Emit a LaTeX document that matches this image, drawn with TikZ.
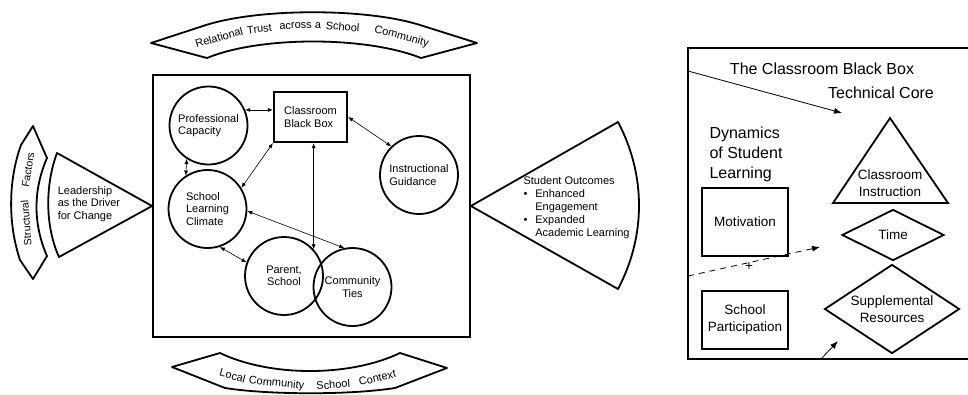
\documentclass[tikz,border=0pt]{standalone}
\usepackage{fontspec}
\setmainfont{Liberation Sans}
\usetikzlibrary{arrows.meta,shapes.geometric}

\begin{document}
\begin{tikzpicture}[x=1pt,y=-1pt,
  every node/.style={font=\fontsize{11}{12.5}\selectfont},
  bubble/.style={circle,draw,line width=1.8pt,minimum size=78pt,inner sep=0pt,align=left},
  band/.style={draw,line width=1.8pt,line join=round},
  word/.style={sloped,inner sep=1pt},
  link/.style={{Latex[length=5pt,width=4pt]}-{Latex[length=5pt,width=4pt]},line width=0.6pt},
  bigarrow/.style={-{Latex[length=8pt,width=6pt]},line width=0.8pt},
  big/.style={font=\fontsize{16}{20}\selectfont},
  mid/.style={font=\fontsize{13.5}{17}\selectfont},
  thickbox/.style={draw,line width=1.8pt}]
\useasboundingbox (0,0) rectangle (968,394);

\node [thickbox,minimum width=317pt,minimum height=262pt] (school) at (311.5,206) {};
\node [bubble] (pc) at (208.5,125.5) {Professional\\Capacity};
\node [bubble] (slc) at (207.5,209) {School\\Learning\\Climate};
\node [bubble] (ig) at (419,175) {Instructional\\Guidance};
\node [bubble,align=center] (ps) at (284,276) {Parent,\\School};
\node [bubble,align=center] (ct) at (352.5,287) {Community\\Ties};
\node [draw,line width=2.2pt,minimum width=73pt,minimum height=50pt,align=left] (bb) at (310.5,117) {Classroom\\Black Box};

\draw [link] (pc.23) -- (pc.23 -| bb.west);
\draw [link] (pc.237) -- (slc.123);
\draw [link] (slc.32) -- (bb.south west);
\draw [link] (bb.east) -- (ig.134);
\draw [link] (slc.-3) -- (ct.102);
\draw [link] (slc.-72) -- (ps.160);
\draw [link] (ps.42 |- bb.south) -- (ps.42);

\draw [band] (school.west) -- (57,153) .. controls (45,185) and (45,226) .. (59,257) -- cycle;
\node [align=left] (lead) at (89,204) {Leadership\\as the Driver\\for Change};

\draw [band] (school.east) -- (618,122) .. controls (646,175) and (646,236) .. (618,289) -- cycle;
\node [anchor=west] (out) at (520,208) {\fontsize{11}{13}\selectfont
  \begin{tabular}{@{}l@{\hspace{8pt}}l@{}}
  \multicolumn{2}{@{}l}{Student Outcomes}\\
  \textbullet & Enhanced\\
   & Engagement\\
  \textbullet & Expanded\\
   & Academic Learning
  \end{tabular}};

\draw [band] (151,43) -- (206,25) .. controls (260,8) and (366,8) .. (420,25) -- (477,43)
  -- (421,58) .. controls (366,36) and (260,36) .. (207,58) -- cycle;
\path (197,45) .. controls (260,19) and (360,19) .. (427,45)
  node [word,pos=0.11] (rt1) {Relational}
  node [word,pos=0.29] (rt2) {Trust}
  node [word,pos=0.44] (rt3) {across}
  node [word,pos=0.53] (rt4) {a}
  node [word,pos=0.63] (rt5) {School}
  node [word,pos=0.88] (rt6) {Community};

\draw [band] (172,367) -- (220,353) .. controls (270,377) and (350,377) .. (400,353) -- (447,368)
  -- (395,388) .. controls (350,395) and (270,395) .. (225,388) -- cycle;
\path (218,371) .. controls (270,390) and (350,390) .. (400,371)
  node [word,pos=0.09] (lc1) {Local}
  node [word,pos=0.33] (lc2) {Community}
  node [word,pos=0.62] (lc3) {School}
  node [word,pos=0.86] (lc4) {Context};

\draw [band] (33,126) -- (47,158) .. controls (33,190) and (33,224) .. (47,256) -- (33,279)
  -- (20,260) .. controls (8,224) and (8,181) .. (21,145) -- cycle;
\path (33,262) .. controls (23,228) and (23,182) .. (33,148)
  node [word,allow upside down,pos=0.35,font=\fontsize{10.5}{12}\selectfont] (sf1) {Structural}
  node [word,allow upside down,pos=0.8,font=\fontsize{10.5}{12}\selectfont] (sf2) {Factors};

\draw [line width=1.8pt] (968,48) -| (688,359) -- (968,359);
\node [big] (title) at (822,69) {The Classroom Black Box};
\node [big] (core) at (881,93) {Technical Core};
\node [big,align=left,anchor=west] (dyn) at (706,154) {Dynamics\\of Student\\Learning};
\node [thickbox,mid,minimum width=86pt,minimum height=68pt] (mot) at (745,222) {Motivation};
\node [thickbox,mid,minimum width=86pt,minimum height=58pt,align=center] (part) at (745,320) {School\\Participation};
\draw [line width=1.8pt] (890,118) -- (948,203) -- (833,203) -- cycle;
\node [mid,align=center] (ci) at (890,183) {Classroom\\Instruction};
\node [thickbox,mid,diamond,aspect=2,inner sep=0pt,minimum width=102pt,minimum height=51pt] (time) at (893,235) {Time};
\node [thickbox,mid,diamond,aspect=1.5,inner sep=1pt,minimum width=135pt,minimum height=89pt,align=center] (sr) at (892,309) {Supplemental\\Resources};

\coordinate (in1) at (688,71);
\coordinate (tc) at (842,113);
\draw [bigarrow] (in1) -- (tc);
\coordinate (in2) at (688,276);
\coordinate (dh) at (820,247);
\draw [bigarrow,dash pattern=on 6pt off 5pt] (in2) -- (dh);
\node [mid] (plus) at (749,267) {+};
\coordinate (in3) at (821,359);
\coordinate (sh) at (838,341);
\draw [bigarrow] (in3) -- (sh);
\end{tikzpicture}
\end{document}
